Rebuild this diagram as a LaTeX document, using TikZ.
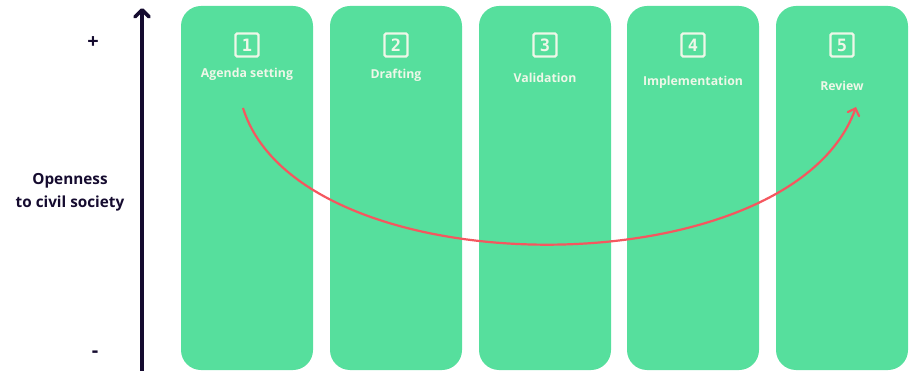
\documentclass[tikz,border=0pt]{standalone}
\usepackage{fontspec}
\setmainfont{Open Sans}
\newfontfamily\digitfont{DejaVu Sans Mono}
\usetikzlibrary{arrows.meta}
\definecolor{stagegreen}{HTML}{56DF9D}
\definecolor{stagetext}{HTML}{EEF7E8}
\definecolor{axisdark}{HTML}{150B2F}
\definecolor{flowred}{HTML}{F5575F}
\tikzset{
  stagebox/.style={fill=stagegreen, draw=none, rounded corners=20pt,
    minimum width=132pt, minimum height=364pt, inner sep=0pt},
  stagenum/.style={draw=stagetext, line width=2.4pt, rounded corners=1.5pt,
    minimum width=23pt, minimum height=23pt, inner sep=0pt,
    text=stagetext, font=\digitfont\bfseries\fontsize{17}{17}\selectfont},
  stagelabel/.style={text=stagetext, font=\bfseries\fontsize{12.3}{13}\selectfont},
  sidelabel/.style={text=axisdark, font=\bfseries\fontsize{15.3}{23}\selectfont, align=center},
  signlabel/.style={text=axisdark, font=\bfseries\fontsize{20}{20}\selectfont},
}
\begin{document}
\begin{tikzpicture}[x=1pt, y=-1pt]
  \useasboundingbox (0,0) rectangle (909,371);
  % five process stages
  \foreach \i/\cx/\ly/\txt in {1/247/74/Agenda setting, 2/396/75/Drafting,
      3/545/78/Validation, 4/693/82/Implementation, 5/842/86/Review} {
    \node[stagebox] (stage\i) at (\cx,188) {};
    \node[stagenum] (num\i) at (\cx,45) {\i};
    \node[stagelabel] (label\i) at (\cx,\ly) {\txt};
  }
  % vertical axis
  \coordinate (axisbottom) at (142,371);
  \coordinate (axistop) at (142,8);
  \draw[axisdark, line width=3.6pt, -{Straight Barb[length=7pt, width=14pt, line cap=round, round]}]
    (axisbottom) -- (axistop);
  \node[signlabel] (plus) at (93,43) {+};
  \node[signlabel] (minus) at (95,354) {-};
  \node[sidelabel] (axislabel) at (70,192) {Openness\\to civil society};
  % flow across the stages
  \coordinate (flowstart) at (243,108);
  \coordinate (flowend) at (856,107);
  \draw[flowred, line width=2.2pt, -{Straight Barb[length=6pt, width=12pt, line cap=round]}]
    (flowstart) .. controls (300,290) and (790,290) .. (flowend);
\end{tikzpicture}
\end{document}
